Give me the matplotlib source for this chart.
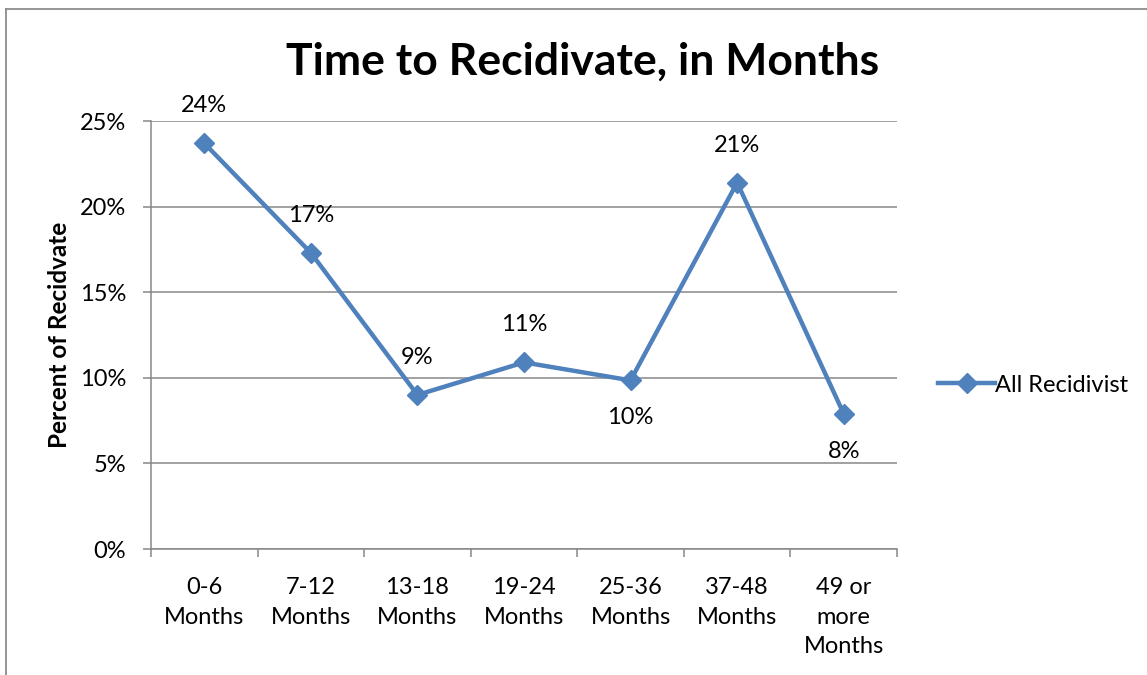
import matplotlib
matplotlib.use("Agg")
import matplotlib.pyplot as plt
from matplotlib.lines import Line2D
import numpy as np

categories = ["0-6\nMonths", "7-12\nMonths", "13-18\nMonths", "19-24\nMonths",
              "25-36\nMonths", "37-48\nMonths", "49 or\nmore\nMonths"]
values = [23.7, 17.3, 9.0, 10.9, 9.85, 21.4, 7.9]
value_labels = ["24%", "17%", "9%", "11%", "10%", "21%", "8%"]
label_below = [False, False, False, False, True, False, True]
series_name = "All Recidivist"
yticks = [0, 5, 10, 15, 20, 25]

plt.rcParams['font.family'] = ['Lato', 'DejaVu Sans']

W, H = 1147, 675
fig = plt.figure(figsize=(W / 100, H / 100), dpi=100)

def px(x0, y0, x1, y1):
    return [x0 / W, 1 - y1 / H, (x1 - x0) / W, (y1 - y0) / H]

FS = 17
ax = fig.add_axes(px(151, 121, 897, 549))
color = "#4F81BD"
grid_c = "#878787"
x = np.arange(len(categories))
line, = ax.plot(x, values, color=color, lw=3.2, marker="D", ms=10,
                mec=color, mfc=color, label=series_name, zorder=3)
ax.set_xlim(-0.5, len(categories) - 0.5)
ax.set_ylim(0, 25)
ax.set_yticks(yticks)
ax.set_yticklabels([f"{t}%" for t in yticks], fontsize=FS)
ax.yaxis.grid(True, color=grid_c, lw=1.1)
ax.set_axisbelow(True)
for s in ["top", "right"]:
    ax.spines[s].set_visible(False)
for s in ["left", "bottom"]:
    ax.spines[s].set_color(grid_c)
    ax.spines[s].set_linewidth(1.1)
ax.tick_params(axis="y", length=6, width=1.1, color=grid_c, pad=12)
ax.set_xticks(x)
ax.set_xticklabels(categories, fontsize=FS, linespacing=1.52, va="top")
ax.tick_params(axis="x", which="major", length=0, pad=20)
ax.set_xticks(np.arange(-0.5, len(categories)), minor=True)
ax.tick_params(axis="x", which="minor", length=6, width=1.1, color=grid_c)

for xi, v, lab, below in zip(x, values, value_labels, label_below):
    ax.annotate(lab, (xi, v), xytext=(0, -27 if below else 27),
                textcoords="offset points", ha="center", va="center", fontsize=FS)

ax.set_ylabel("Percent of Recidvate", fontsize=17.5, fontweight="bold", labelpad=6)

fig.text(583 / W, 1 - 62 / H, "Time to Recidivate, in Months", fontsize=32,
         fontweight="bold", ha="center", va="center")

fig.legend(handles=[line], labels=[series_name], loc="center left",
           bbox_to_anchor=(929 / W, 1 - 385 / H), frameon=False, fontsize=FS,
           handlelength=2.4, handletextpad=0.0, borderaxespad=0)

fig.add_artist(Line2D([6 / W, 6 / W], [0, 1 - 9 / H], color="#8c8c8c", lw=1.3,
                      transform=fig.transFigure))
fig.add_artist(Line2D([6 / W, 1], [1 - 9 / H, 1 - 9 / H], color="#8c8c8c", lw=1.3,
                      transform=fig.transFigure))

fig.savefig("out.png", dpi=100)
